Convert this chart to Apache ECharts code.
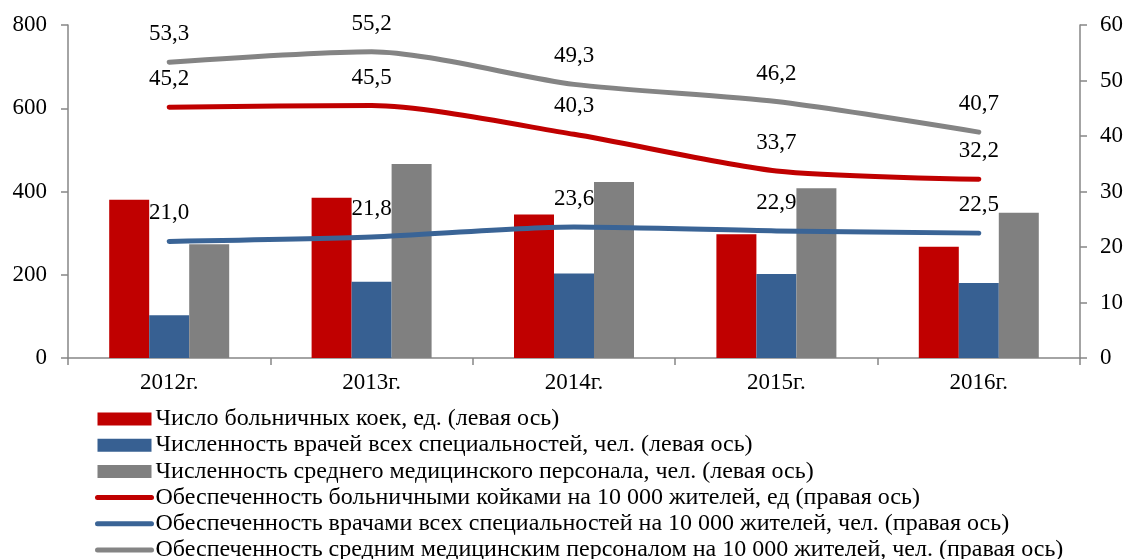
<!DOCTYPE html>
<html>
<head>
<meta charset="utf-8">
<script src="https://cdn.jsdelivr.net/npm/echarts@6/dist/echarts.min.js"></script>
<style>
  html, body { margin: 0; padding: 0; background: #fff; }
  #chart { width: 1130px; height: 559px; }
</style>
</head>
<body>
<div id="chart"></div>
<script>
const years = ['2012г.', '2013г.', '2014г.', '2015г.', '2016г.'];

// left axis (bars)
const beds = [380, 385, 345, 297, 267];
const doctors = [103, 183, 203, 202, 180];
const nurses = [273, 466, 423, 408, 349];

// right axis (lines, per 10 000 residents)
const bedsPer10k = [45.2, 45.5, 40.3, 33.7, 32.2];
const doctorsPer10k = [21.0, 21.8, 23.6, 22.9, 22.5];
const nursesPer10k = [53.3, 55.2, 49.3, 46.2, 40.7];

const names = [
  'Число больничных коек, ед. (левая ось)',
  'Численность врачей всех специальностей, чел. (левая ось)',
  'Численность среднего медицинского персонала, чел. (левая ось)',
  'Обеспеченность больничными койками на 10 000 жителей, ед (правая ось)',
  'Обеспеченность врачами всех специальностей на 10 000 жителей, чел. (правая ось)',
  'Обеспеченность средним медицинским персоналом на 10 000 жителей, чел. (правая ось)'
];

const RED = '#C00000', BLUE = '#376092', GRAY = '#808080';
const FONT = "'Liberation Serif', 'Times New Roman', serif";
const axisGray = '#868686';

const bar = (name, data, color) => ({
  name: name,
  type: 'bar',
  yAxisIndex: 0,
  data: data,
  barWidth: 40,
  barGap: '0%',
  itemStyle: { color: color },
  z: 2
});

const line = (name, data, color) => ({
  name: name,
  type: 'line',
  yAxisIndex: 1,
  data: data,
  smooth: 0.25,
  symbol: 'circle',
  symbolSize: 1,
  showSymbol: true,
  lineStyle: { color: color, width: 5, cap: 'round', join: 'round' },
  itemStyle: { color: color },
  label: {
    show: true,
    position: 'top',
    distance: 16,
    color: '#000',
    fontFamily: FONT,
    fontSize: 23,
    formatter: p => p.value.toFixed(1).replace('.', ',')
  },
  z: 5
});

// hide the marker in line legend icons, keep the line
const noMarker = { opacity: 0 };

const chart = echarts.init(document.getElementById('chart'));
chart.setOption({
  animation: false,
  textStyle: { fontFamily: FONT },
  grid: { left: 68, right: 50, top: 25, bottom: 201 },
  legend: {
    orient: 'vertical',
    left: 95,
    top: 407,
    height: 170,
    padding: 0,
    itemWidth: 54,
    itemHeight: 13,
    itemGap: 2.2,
    lineStyle: { width: 5, cap: 'round' },
    textStyle: { fontFamily: FONT, fontSize: 24, color: '#000', lineHeight: 22, padding: [0, 0, 0, -1] },
    data: [
      { name: names[0], icon: 'rect' },
      { name: names[1], icon: 'rect' },
      { name: names[2], icon: 'rect' },
      { name: names[3], itemStyle: noMarker },
      { name: names[4], itemStyle: noMarker },
      { name: names[5], itemStyle: noMarker }
    ]
  },
  xAxis: {
    type: 'category',
    data: years,
    axisLine: { lineStyle: { color: axisGray, width: 1.5 } },
    axisTick: { show: true, length: 7, lineStyle: { color: axisGray, width: 1.5 } },
    axisLabel: { color: '#000', fontFamily: FONT, fontSize: 23, margin: 13 }
  },
  yAxis: [
    {
      type: 'value',
      min: 0, max: 800, interval: 200,
      axisLine: { show: true, lineStyle: { color: axisGray, width: 1.5 } },
      axisTick: { show: true, length: 7, lineStyle: { color: axisGray, width: 1.5 } },
      splitLine: { show: false },
      axisLabel: { color: '#000', fontFamily: FONT, fontSize: 23, margin: 21 }
    },
    {
      type: 'value',
      min: 0, max: 60, interval: 10,
      position: 'right',
      axisLine: { show: true, lineStyle: { color: axisGray, width: 1.5 } },
      axisTick: { show: true, length: 7, lineStyle: { color: axisGray, width: 1.5 } },
      splitLine: { show: false },
      axisLabel: { color: '#000', fontFamily: FONT, fontSize: 23, margin: 20 }
    }
  ],
  series: [
    bar(names[0], beds, RED),
    bar(names[1], doctors, BLUE),
    bar(names[2], nurses, GRAY),
    line(names[3], bedsPer10k, RED),
    line(names[4], doctorsPer10k, '#3A6496'),
    line(names[5], nursesPer10k, '#848484')
  ]
});
</script>
</body>
</html>
